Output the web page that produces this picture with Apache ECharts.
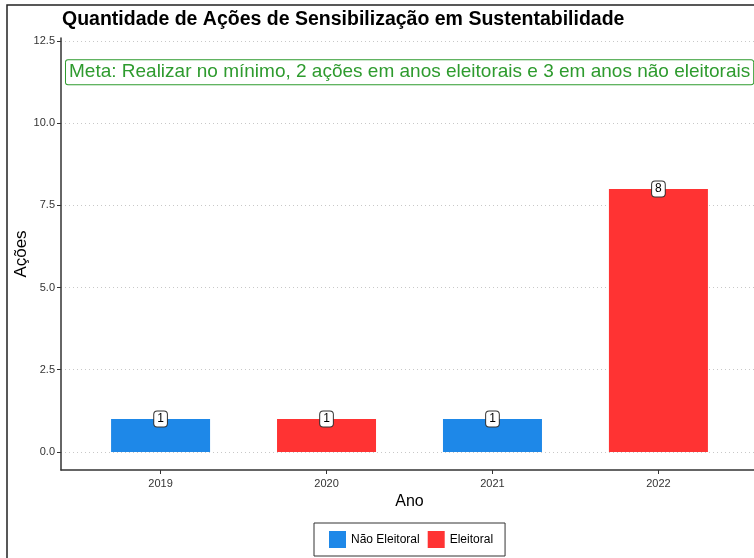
<!DOCTYPE html>
<html>
<head>
<meta charset="utf-8">
<script src="https://cdn.jsdelivr.net/npm/echarts@6/dist/echarts.min.js"></script>
<style>
  html, body { margin: 0; padding: 0; background: #fff; }
  #chart { width: 754px; height: 558px; }
</style>
</head>
<body>
<div id="chart"></div>
<script>
// data
const anos = ['2019', '2020', '2021', '2022']
const acoes = [1, 1, 1, 8]
const tipoAno = ['Não Eleitoral', 'Eleitoral', 'Não Eleitoral', 'Eleitoral']
const tipos = ['Não Eleitoral', 'Eleitoral']
const yTicks = [0, 2.5, 5, 7.5, 10, 12.5]
const metaTexto = 'Meta: Realizar no mínimo, 2 ações em anos eleitorais e 3 em anos não eleitorais'
const metaValor = 11.55

const cores = { 'Não Eleitoral': '#1E88E8', 'Eleitoral': '#FF3333' }
const fonte = '"Liberation Sans", Arial, sans-serif'
const xPos = anos.map((a, i) => i + 1)

const chart = echarts.init(document.getElementById('chart'))

// bars of each type, placed on a numeric x scale so the panel padding matches
const barSeries = tipos.map((t, k) => ({
  name: t,
  type: 'bar',
  barWidth: 99,
  barGap: '-100%',
  itemStyle: { color: cores[t] },
  data: anos.map((a, i) => (tipoAno[i] === t ? [xPos[i], acoes[i]] : null)).filter(d => d),
  label: {
    show: true,
    position: ['50%', 0],
    align: 'center',
    verticalAlign: 'middle',
    formatter: p => p.value[1],
    color: '#000',
    fontFamily: fonte,
    fontSize: 12,
    backgroundColor: '#fff',
    borderColor: '#333',
    borderWidth: 1,
    borderRadius: 3,
    padding: [2, 3, 1, 3]
  },
  // dotted horizontal gridlines
  markLine: k === 0 ? {
    silent: true,
    symbol: 'none',
    label: { show: false },
    lineStyle: { color: '#c8c8c8', type: [1, 3], width: 1 },
    z: 0,
    data: yTicks.map(v => ({ yAxis: v }))
  } : undefined,
  z: 3
}))

chart.setOption({
  animation: false,
  textStyle: { fontFamily: fonte },
  title: {
    text: 'Quantidade de Ações de Sensibilização em Sustentabilidade',
    left: 62,
    top: 10,
    padding: 0,
    textStyle: { fontSize: 19.5, fontWeight: 'bold', color: '#000', fontFamily: fonte }
  },
  grid: { left: 61, top: 38, width: 697, height: 432, outerBoundsMode: 'none', containLabel: false },
  xAxis: {
    type: 'value',
    min: 0.4,
    max: 4.6,
    name: 'Ano',
    nameLocation: 'middle',
    nameGap: 24,
    nameMoveOverlap: false,
    nameTextStyle: { fontSize: 16, color: '#000' },
    axisLine: { show: true, onZero: false, lineStyle: { color: '#333', width: 1.5 } },
    axisTick: { show: true, customValues: xPos, length: 4, lineStyle: { color: '#333' } },
    axisLabel: {
      customValues: xPos,
      formatter: v => anos[Math.round(v) - 1],
      fontSize: 11,
      color: '#333',
      margin: 8
    },
    splitLine: { show: false }
  },
  yAxis: {
    type: 'value',
    min: -0.55,
    max: 12.59,
    name: 'Ações',
    nameLocation: 'middle',
    nameGap: 31,
    nameMoveOverlap: false,
    nameTextStyle: { fontSize: 17, color: '#000' },
    axisLine: { show: true, onZero: false, lineStyle: { color: '#333', width: 1.5 } },
    axisTick: { show: true, customValues: yTicks, length: 4, lineStyle: { color: '#333' } },
    axisLabel: {
      customValues: yTicks,
      formatter: v => v.toFixed(1),
      fontSize: 11,
      color: '#333',
      margin: 6
    },
    splitLine: { show: false }
  },
  legend: {
    data: tipos,
    left: 314,
    top: 523,
    orient: 'horizontal',
    icon: 'rect',
    itemWidth: 17,
    itemHeight: 17,
    itemGap: 8,
    padding: [8, 12, 8, 15],
    borderColor: '#333',
    borderWidth: 1,
    textStyle: { fontSize: 12, color: '#000', fontFamily: fonte }
  },
  series: barSeries
})

// image frame and the goal annotation, anchored through the chart scales
const topo = chart.convertToPixel({ gridIndex: 0 }, [0.4, metaValor])
chart.setOption({
  graphic: [
    {
      type: 'rect',
      silent: true,
      shape: { x: 7, y: 5, width: 800, height: 600 },
      style: { fill: 'none', stroke: '#222', lineWidth: 1.5 }
    },
    {
      type: 'text',
      silent: true,
      x: topo[0] + 5,
      y: topo[1],
      style: {
        text: metaTexto,
        fill: '#2E9B2E',
        font: '19px ' + fonte,
        verticalAlign: 'middle',
        align: 'left',
        backgroundColor: '#fff',
        borderColor: '#2E9B2E',
        borderWidth: 1,
        borderRadius: 2,
        padding: [3, 3, 2, 3]
      }
    }
  ]
})
</script>
</body>
</html>
